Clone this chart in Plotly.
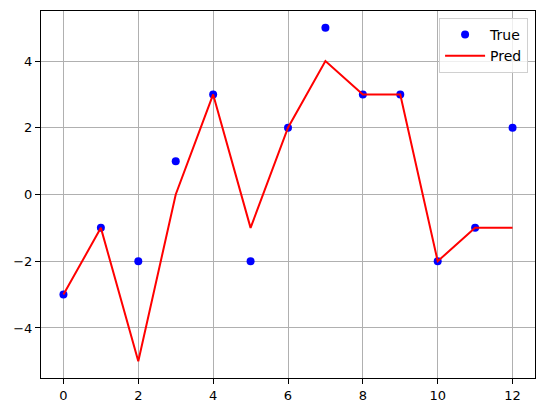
import plotly.graph_objects as go

# data
steps = list(range(13))
true_vals = [-3, -1, -2, 1, 3, -2, 2, 5, 3, 3, -2, -1, 2]
pred_vals = [-3, -1, -5, 0, 3, -1, 2, 4, 3, 3, -2, -1, -1]

fig = go.Figure()
fig.add_trace(go.Scatter(
    x=steps, y=true_vals, mode="markers", name="True",
    marker=dict(color="blue", size=8, line=dict(width=0))
))
fig.add_trace(go.Scatter(
    x=steps, y=pred_vals, mode="lines", name="Pred",
    line=dict(color="red", width=2)
))

axis_style = dict(
    showgrid=True, gridcolor="#b0b0b0", gridwidth=1,
    showline=True, linecolor="black", linewidth=1, mirror=True,
    ticks="outside", ticklen=5, tickcolor="black", tickwidth=1,
    zeroline=False, tickfont=dict(size=13, color="black"),
)

fig.update_xaxes(range=[-0.6, 12.6], dtick=2, tick0=0, **axis_style)
fig.update_yaxes(range=[-5.5, 5.5], dtick=2, tick0=0, **axis_style)

fig.update_layout(
    width=546, height=413,
    margin=dict(l=41, r=10, t=10, b=33),
    plot_bgcolor="white", paper_bgcolor="white",
    font=dict(family="DejaVu Sans", size=13, color="black"),
    legend=dict(
        x=0.986, y=0.981, xanchor="right", yanchor="top",
        bgcolor="rgba(255,255,255,0.8)", bordercolor="#d0d0d0", borderwidth=1,
        font=dict(size=14), itemwidth=40, tracegroupgap=6,
    ),
)

# drop the browser's default body margin so the figure sits at the page corner
fig.write_html("out.html", config={"displayModeBar": False},
               post_script="document.body.style.margin='0';")
